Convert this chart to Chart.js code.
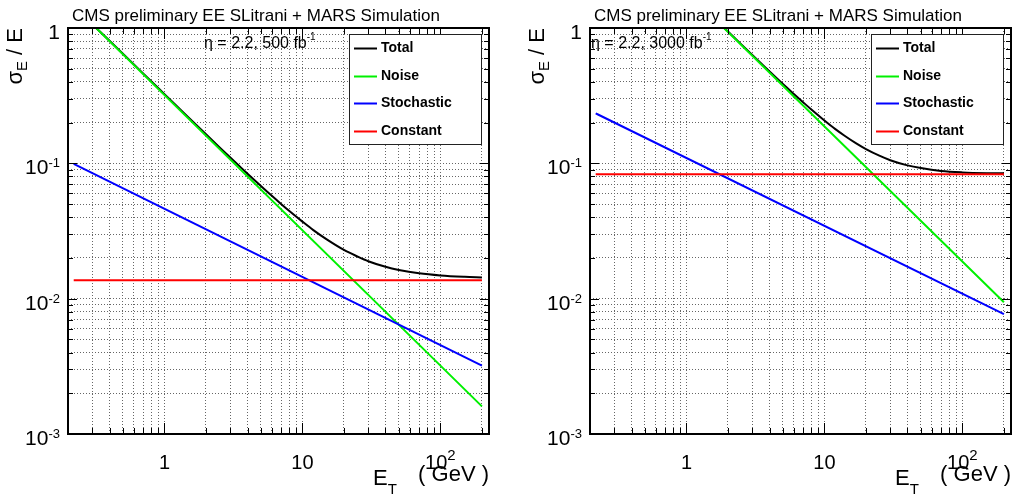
<!DOCTYPE html>
<html>
<head>
<meta charset="utf-8">
<script src="https://cdn.jsdelivr.net/npm/chart.js@4.4.0/dist/chart.umd.min.js"></script>
<style>
  html, body { margin: 0; padding: 0; background: #fff; }
  #wrap { position: relative; width: 1013px; height: 497px; overflow: hidden; }
  canvas { position: absolute; top: 0; }
</style>
</head>
<body>
<div id="wrap">
  <canvas id="left" width="506" height="497" style="left:0"></canvas>
  <canvas id="right" width="507" height="497" style="left:506px"></canvas>
</div>
<script>
// sigma_E/E vs E_T
const xRange = [0.2, 225];
const yRange = [0.001, 1];
const xGrid = [0.3, 0.4, 0.5, 0.6, 0.7, 0.8, 0.9, 1, 2, 3, 4, 5, 6, 7, 8, 9,
               10, 20, 30, 40, 50, 60, 70, 80, 90, 100, 200];
const yGrid = [0.002, 0.003, 0.004, 0.005, 0.006, 0.007, 0.008, 0.009, 0.01,
               0.02, 0.03, 0.04, 0.05, 0.06, 0.07, 0.08, 0.09, 0.1,
               0.2, 0.3, 0.4, 0.5, 0.6, 0.7, 0.8, 0.9];
const xTickVals = [1, 10, 100];
const xTickText = [['1', ''], ['10', ''], ['10', '2']];
const yTickVals = [1, 0.1, 0.01, 0.001];
const yTickText = [['1', ''], ['10', '-1'], ['10', '-2'], ['10', '-3']];

const seriesNames = ['Total', 'Noise', 'Stochastic', 'Constant'];
const seriesColors = ['#000000', '#00f000', '#0000ff', '#ff0000'];

// eta = 2.2, 500 fb-1
const totalAX = [0.32, 0.5, 0.7, 1, 1.5, 2, 2.5, 3, 3.5, 4, 5, 6, 7, 8, 10, 12, 15, 20,
                 25, 30, 40, 50, 70, 100, 150, 200];
const totalAY = [1.0, 0.646, 0.462, 0.3245, 0.2173, 0.1638, 0.1317, 0.1104, 0.0952, 0.0838,
                 0.0680, 0.0575, 0.0501, 0.0446, 0.0371, 0.0321, 0.0274, 0.0229, 0.0205,
                 0.0189, 0.0172, 0.0163, 0.0154, 0.01485, 0.0145, 0.01434];
const noiseAX = [0.32, 200];
const noiseAY = [1.0, 0.0016];
const stochAX = [0.22, 200];
const stochAY = [0.099, 0.0032];
const constAX = [0.22, 200];
const constAY = [0.0137, 0.0137];

// eta = 2.2, 3000 fb-1
const totalBX = [1.88, 2, 3, 4, 5, 6, 7, 8, 10, 12, 14, 17, 20, 25, 30, 40, 50, 70, 100, 150, 200];
const totalBY = [1.0, 0.942, 0.632, 0.478, 0.386, 0.326, 0.283, 0.251, 0.2075, 0.179, 0.160,
                 0.1404, 0.1274, 0.1139, 0.1055, 0.0966, 0.0922, 0.0878, 0.0857, 0.0846, 0.0843];
const noiseBX = [1.87, 200];
const noiseBY = [1.0, 0.0094];
const stochBX = [0.22, 200];
const stochBY = [0.234, 0.0077];
const constBX = [0.22, 200];
const constBY = [0.083, 0.083];

const FONT = '"Liberation Sans", Arial, Helvetica, sans-serif';

function pts(xs, ys) {
  return xs.map((x, i) => ({ x: x, y: ys[i] }));
}

function isDecade(v) {
  const l = Math.log10(v);
  return Math.abs(l - Math.round(l)) < 1e-9;
}

// base text + superscript, anchored on its right edge, centre or left
function drawSup(ctx, base, sup, x, y, align, baseFont, supFont, supDy) {
  ctx.font = baseFont;
  const wb = ctx.measureText(base).width;
  ctx.font = supFont;
  const ws = sup ? ctx.measureText(sup).width : 0;
  const w = wb + ws;
  let x0 = align === 'right' ? x - w : (align === 'center' ? x - w / 2 : x);
  ctx.textAlign = 'left';
  ctx.font = baseFont;
  ctx.fillText(base, x0, y);
  if (sup) {
    ctx.font = supFont;
    ctx.fillText(sup, x0 + wb, y + supDy);
  }
}

function rootStyle(p) {
  return {
    id: 'rootStyle',
    afterDatasetsDraw(chart) {
      const ctx = chart.ctx, a = chart.chartArea;
      const xs = chart.scales.x, ys = chart.scales.y;
      ctx.save();
      // inward tick marks on all four sides
      ctx.strokeStyle = '#000';
      ctx.lineWidth = 1;
      ctx.beginPath();
      xGrid.forEach(v => {
        const px = Math.round(xs.getPixelForValue(v)) + 0.5;
        const len = isDecade(v) ? 11 : 6;
        ctx.moveTo(px, a.bottom); ctx.lineTo(px, a.bottom - len);
        ctx.moveTo(px, a.top); ctx.lineTo(px, a.top + len);
      });
      yGrid.forEach(v => {
        const py = Math.round(ys.getPixelForValue(v)) + 0.5;
        const len = isDecade(v) ? 9 : 5;
        ctx.moveTo(a.left, py); ctx.lineTo(a.left + len, py);
        ctx.moveTo(a.right, py); ctx.lineTo(a.right - len, py);
      });
      ctx.stroke();
      // frame
      ctx.lineWidth = 2;
      ctx.strokeRect(a.left, a.top, a.right - a.left, a.bottom - a.top);
      ctx.restore();
    },
    afterDraw(chart) {
      const ctx = chart.ctx, a = chart.chartArea;
      const xs = chart.scales.x, ys = chart.scales.y;
      ctx.save();
      ctx.fillStyle = '#000';
      ctx.textBaseline = 'alphabetic';

      // title
      ctx.font = '17px ' + FONT;
      ctx.textAlign = 'left';
      ctx.fillText('CMS preliminary EE SLitrani + MARS Simulation', a.left + 4, 21);

      // eta / luminosity label
      drawSup(ctx, '\u03b7 = 2.2, ' + p.lumi + ' fb', '-1', a.left + p.noteDx, 48, 'left',
              '16px ' + FONT, '10px ' + FONT, -8);

      // y tick labels
      yTickVals.forEach((v, i) => {
        const py = ys.getPixelForValue(v);
        drawSup(ctx, yTickText[i][0], yTickText[i][1], a.left - 8, py + 11, 'right',
                '21px ' + FONT, '13px ' + FONT, -7);
      });
      // x tick labels
      xTickVals.forEach((v, i) => {
        const px = xs.getPixelForValue(v);
        drawSup(ctx, xTickText[i][0], xTickText[i][1], px, 469, 'center',
                '20px ' + FONT, '15px ' + FONT, -9);
      });

      // x title: E_T ( GeV )
      ctx.font = '22px ' + FONT;
      ctx.textAlign = 'right';
      ctx.fillText('( GeV )', a.right, 481);
      ctx.textAlign = 'left';
      const ex = a.right - 116;
      ctx.fillText('E', ex, 485);
      const we = ctx.measureText('E').width;
      ctx.font = '15px ' + FONT;
      ctx.fillText('T', ex + we, 494);

      // y title: sigma_E / E, rotated, flush with the top of the axis
      ctx.save();
      ctx.translate(a.left - 46, a.top);
      ctx.rotate(-Math.PI / 2);
      ctx.font = '22px ' + FONT;
      const w1 = ctx.measureText('\u03c3').width;
      const w3 = ctx.measureText(' / E').width;
      ctx.font = '15px ' + FONT;
      const w2 = ctx.measureText('E').width;
      let tx = -(w1 + w2 + w3);
      ctx.font = '22px ' + FONT;
      ctx.fillText('\u03c3', tx, 0);
      ctx.font = '15px ' + FONT;
      ctx.fillText('E', tx + w1, 5);
      ctx.font = '22px ' + FONT;
      ctx.fillText(' / E', tx + w1 + w2, 0);
      ctx.restore();

      // legend box
      const bw = 132, bh = 110;
      const bx = a.right - 8 - bw, by = 34;
      ctx.fillStyle = '#fff';
      ctx.fillRect(bx, by, bw, bh);
      ctx.strokeStyle = '#222';
      ctx.lineWidth = 1;
      ctx.strokeRect(bx + 0.5, by + 0.5, bw, bh);
      ctx.font = 'bold 14px ' + FONT;
      ctx.textBaseline = 'middle';
      seriesNames.forEach((name, i) => {
        const ly = Math.round(by + 14 + i * 27.7) + 0.5;
        ctx.strokeStyle = seriesColors[i];
        ctx.lineWidth = 2;
        ctx.beginPath();
        ctx.moveTo(bx + 5, ly); ctx.lineTo(bx + 28, ly);
        ctx.stroke();
        ctx.fillStyle = '#000';
        ctx.fillText(name, bx + 32, ly);
      });
      ctx.restore();
    }
  };
}

function makePanel(id, p) {
  const el = document.getElementById(id);
  const series = [p.total, p.noise, p.stoch, p.cons];
  new Chart(el, {
    type: 'line',
    data: {
      datasets: series.map((d, i) => ({
        label: seriesNames[i],
        data: d,
        borderColor: seriesColors[i],
        borderWidth: 2,
        pointRadius: 0,
        cubicInterpolationMode: 'monotone',
        fill: false,
        clip: 0,
        order: 4 - i
      }))
    },
    options: {
      responsive: false,
      animation: false,
      events: [],
      layout: { padding: { left: 0, top: 28, right: el.width - p.right, bottom: 0 } },
      plugins: { legend: { display: false }, tooltip: { enabled: false } },
      scales: {
        x: {
          type: 'logarithmic',
          min: xRange[0], max: xRange[1],
          ticks: { display: false },
          grid: { color: '#666', lineWidth: 1, drawTicks: false },
          border: { display: false, dash: [1, 2] },
          afterBuildTicks: s => { s.ticks = xGrid.map(v => ({ value: v })); },
          afterFit: s => { s.height = 497 - 434; }
        },
        y: {
          type: 'logarithmic',
          min: yRange[0], max: yRange[1],
          ticks: { display: false },
          grid: { color: '#666', lineWidth: 1, drawTicks: false },
          border: { display: false, dash: [1, 2] },
          afterBuildTicks: s => { s.ticks = yGrid.map(v => ({ value: v })); },
          afterFit: s => { s.width = p.left; }
        }
      }
    },
    plugins: [rootStyle(p)]
  });
}

makePanel('left', {
  left: 68, right: 489, lumi: '500', noteDx: 136,
  total: pts(totalAX, totalAY), noise: pts(noiseAX, noiseAY),
  stoch: pts(stochAX, stochAY), cons: pts(constAX, constAY)
});
makePanel('right', {
  left: 84, right: 505, lumi: '3000', noteDx: 1,
  total: pts(totalBX, totalBY), noise: pts(noiseBX, noiseBY),
  stoch: pts(stochBX, stochBY), cons: pts(constBX, constBY)
});
</script>
</body>
</html>
